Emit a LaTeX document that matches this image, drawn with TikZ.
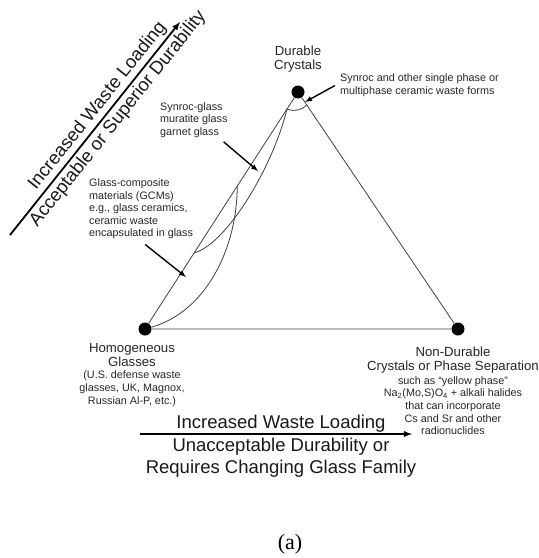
\documentclass[tikz,border=0pt]{standalone}
\usepackage{fontspec}
\setmainfont{Liberation Sans}
\newfontfamily\captfont{Liberation Serif}
\usetikzlibrary{arrows}
\usetikzlibrary{calc}
\usetikzlibrary{positioning}

\tikzset{
  vertex/.style={circle,fill=black,inner sep=0pt,minimum size=13pt},
  corner/.style={font=\fontsize{13.2}{14}\selectfont,align=center,inner sep=0pt,text=black!85},
  note/.style={font=\fontsize{10.8}{12.6}\selectfont,inner sep=0pt,text=black!85},
  trend/.style={font=\fontsize{18.5}{22}\selectfont,align=center,inner sep=0pt,text=black!90},
  edge/.style={draw=black!75,line width=0.8pt},
  pointer/.style={-latex,line width=1.4pt},
  axis/.style={-latex,line width=1.8pt},
}

\begin{document}
\begin{tikzpicture}[x=1pt,y=-1pt]
    \useasboundingbox (0,0) rectangle (539,558);
    % corners of the triangle
    \node [vertex] (dc) at (298,92) {};
    \node [vertex] (hg) at (145,329) {};
    \node [vertex] (nd) at (458,329) {};
    \node [corner] (dclbl) at (298,59) {Durable\\Crystals};
    \node [corner] (hglbl) at (132,355) {Homogeneous\\Glasses};
    \node [note,align=center] (hgnote) [below=4pt of hglbl] {(U.S. defense waste\\glasses, UK, Magnox,\\Russian Al-P, etc.)};
    \node [corner] (ndlbl) at (453,360) {Non-Durable\\Crystals or Phase Separation};
    \node [note,align=center] (ndnote) [below=3pt of ndlbl] {such as ``yellow phase''\\Na\textsubscript{2}(Mo,S)O\textsubscript{4} + alkali halides\\that can incorporate\\Cs and Sr and other\\radionuclides};
    \draw [edge] (dc) -- (hg) -- (nd) -- (dc);

    % region boundaries
    \coordinate (ta) at ($(dc)!0.072!(hg)$);
    \coordinate (tb) at ($(dc)!0.055!(nd)$);
    \coordinate (sa) at ($(dc)!0.679!(hg)$);
    \coordinate (ga) at ($(dc)!0.397!(hg)$);
    \draw [edge] (ta) .. controls (294,112) and (302,110) .. (tb);
    \draw [edge] (ta) .. controls (272,170) and (225,245) .. (sa);
    \draw [edge] (hg) .. controls (205,312) and (237,250) .. (ga);

    % labelled regions
    \node [note,anchor=west,align=left] (syn) at (340,85.5) {Synroc and other single phase or\\multiphase ceramic waste forms};
    \node [note,anchor=west,align=left] (sg) at (160,120) {Synroc-glass\\muratite glass\\garnet glass};
    \node [note,anchor=west,align=left] (gcm) at (89,209) {Glass-composite\\materials (GCMs)\\e.g., glass ceramics,\\ceramic waste\\encapsulated in glass};
    \coordinate (synpt) at (305,102);
    \coordinate (sgpt) at (258,171);
    \coordinate (gcmpt) at (186,277);
    \draw [pointer] ([xshift=-5pt]syn.west) -- (synpt);
    \draw [pointer] ([xshift=-4pt,yshift=-4pt]sg.south east) -- (sgpt);
    \draw [pointer] ([xshift=4pt,yshift=-5pt]gcm.south) -- (gcmpt);

    % loading directions
    \coordinate (da) at (10,235);
    \coordinate (db) at (180,22);
    \draw [axis] (da) -- (db)
        node (il) [pos=0.57,sloped,above,trend,inner sep=2.5pt] {Increased Waste Loading}
        node (ad) [pos=0.58,sloped,below,trend,inner sep=2.5pt] {Acceptable or Superior Durability};
    \coordinate (la) at (140,434);
    \coordinate (lb) at (412,434);
    \draw [axis] (la) -- (lb);
    \node [trend,anchor=base] (wl) at (281,428) {Increased Waste Loading};
    \node [trend,anchor=north] (ud) at (281,438) {Unacceptable Durability or\\Requires Changing Glass Family};

    \node [font=\captfont\fontsize{22}{26}\selectfont] (cap) at (290,544) {(a)};
\end{tikzpicture}
\end{document}
